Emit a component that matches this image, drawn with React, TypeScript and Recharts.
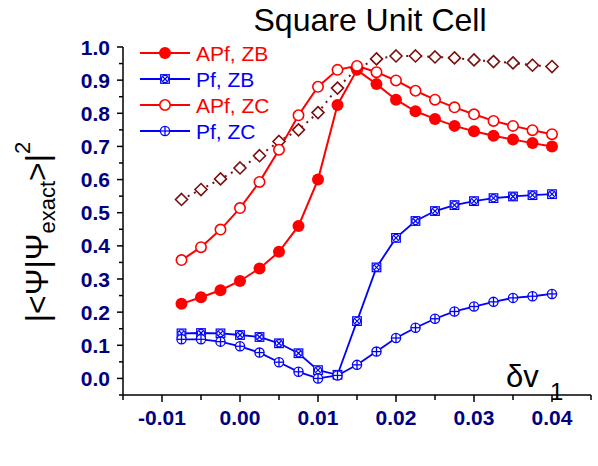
import React from "react";
import { LineChart, Line, XAxis, YAxis, Legend, Label } from "recharts";

// δv1 values (x) and overlaps
const dv = [
  -0.0075, -0.005, -0.0025, 0, 0.0025, 0.005, 0.0075, 0.01, 0.0125, 0.015,
  0.0175, 0.02, 0.0225, 0.025, 0.0275, 0.03, 0.0325, 0.035, 0.0375, 0.04,
];
const apfZB = [
  0.225, 0.245, 0.266, 0.294, 0.332, 0.382, 0.46, 0.6, 0.825, 0.931, 0.888,
  0.841, 0.806, 0.783, 0.762, 0.746, 0.732, 0.721, 0.71, 0.7,
];
const pfZB = [
  0.136, 0.137, 0.136, 0.131, 0.125, 0.106, 0.076, 0.025, 0.011, 0.173, 0.335,
  0.424, 0.475, 0.505, 0.523, 0.535, 0.544, 0.549, 0.553, 0.556,
];
const apfZC = [
  0.357, 0.396, 0.449, 0.514, 0.593, 0.69, 0.794, 0.88, 0.931, 0.943, 0.924,
  0.899, 0.868, 0.841, 0.818, 0.797, 0.777, 0.762, 0.749, 0.737,
];
const pfZC = [
  0.118, 0.118, 0.111, 0.097, 0.078, 0.049, 0.02, 0.0, 0.009, 0.041, 0.081,
  0.122, 0.153, 0.18, 0.202, 0.217, 0.231, 0.243, 0.248, 0.255,
];
const diamondVals = [
  0.54, 0.57, 0.602, 0.635, 0.672, 0.715, 0.75, 0.802, 0.876, 0.935, 0.964,
  0.973, 0.973, 0.97, 0.967, 0.961, 0.956, 0.952, 0.945, 0.941,
];

const xMajorTicks = [-0.01, 0, 0.01, 0.02, 0.03, 0.04];
const xMinorTicks = [-0.015, -0.005, 0.005, 0.015, 0.025, 0.035, 0.045];
const yMajorTicks = [0, 0.1, 0.2, 0.3, 0.4, 0.5, 0.6, 0.7, 0.8, 0.9, 1.0];
const yMinorTicks = [-0.05, 0.05, 0.15, 0.25, 0.35, 0.45, 0.55, 0.65, 0.75, 0.85, 0.95];

const legendItems = [
  { label: "APf, ZB", key: "apfZB", color: "#ff0000" },
  { label: "Pf, ZB", key: "pfZB", color: "#0000ff" },
  { label: "APf, ZC", key: "apfZC", color: "#ff0000" },
  { label: "Pf, ZC", key: "pfZC", color: "#0000ff" },
];

const data = dv.map((x, i) => ({
  x,
  apfZB: apfZB[i],
  pfZB: pfZB[i],
  apfZC: apfZC[i],
  pfZC: pfZC[i],
  diamond: diamondVals[i],
}));

const FONT = "'Liberation Sans', Arial, sans-serif";
const RED = "#ff0000";
const BLUE = "#0000ff";
const MAROON = "#7a0f0f";
const NAVY = "#000080";

function marker(kind: string, cx: number, cy: number, key?: string) {
  switch (kind) {
    case "apfZB":
      return <circle key={key} cx={cx} cy={cy} r={6} fill={RED} />;
    case "apfZC":
      return (
        <circle key={key} cx={cx} cy={cy} r={5.2} fill="#fff" stroke={RED} strokeWidth={1.6} />
      );
    case "pfZB":
      return (
        <g key={key} stroke={BLUE} strokeWidth={1.2} fill="#fff">
          <rect x={cx - 4.3} y={cy - 4.3} width={8.6} height={8.6} />
          <circle cx={cx} cy={cy} r={3.6} />
          <line x1={cx - 2.5} y1={cy - 2.5} x2={cx + 2.5} y2={cy + 2.5} />
          <line x1={cx - 2.5} y1={cy + 2.5} x2={cx + 2.5} y2={cy - 2.5} />
        </g>
      );
    case "pfZC":
      return (
        <g key={key} stroke={BLUE} strokeWidth={1.3} fill="#fff">
          <circle cx={cx} cy={cy} r={4.6} />
          <line x1={cx - 4.6} y1={cy} x2={cx + 4.6} y2={cy} />
          <line x1={cx} y1={cy - 4.6} x2={cx} y2={cy + 4.6} />
        </g>
      );
    default:
      return (
        <path
          key={key}
          d={`M${cx},${cy - 6}L${cx + 6},${cy}L${cx},${cy + 6}L${cx - 6},${cy}Z`}
          fill="#fff"
          stroke={MAROON}
          strokeWidth={1.6}
        />
      );
  }
}

const dotFor = (kind: string) => (p: any) =>
  marker(kind, p.cx, p.cy, `${kind}-${p.index}`);

function XTick(props: any) {
  const { x, y, payload } = props;
  const major = xMajorTicks.includes(payload.value);
  return (
    <g>
      <line x1={x} y1={y} x2={x} y2={y + (major ? 7 : 5)} stroke="#000" strokeWidth={1.5} />
      {major && (
        <text x={x} y={y + 30} textAnchor="middle" fill={NAVY} fontSize={21} fontWeight="bold" fontFamily={FONT}>
          {payload.value.toFixed(2)}
        </text>
      )}
    </g>
  );
}

function YTick(props: any) {
  const { x, y, payload } = props;
  const major = yMajorTicks.some((t) => Math.abs(t - payload.value) < 1e-9);
  return (
    <g>
      <line x1={x} y1={y} x2={x - (major ? 6 : 4)} y2={y} stroke="#000" strokeWidth={1.5} />
      {major && (
        <text x={x - 13} y={y + 7.5} textAnchor="end" fill={NAVY} fontSize={21} fontWeight="bold" fontFamily={FONT}>
          {payload.value.toFixed(1)}
        </text>
      )}
    </g>
  );
}

function YLabel() {
  const cx = 48;
  const cy = 232;
  return (
    <text
      x={cx}
      y={cy}
      transform={`rotate(-90, ${cx}, ${cy})`}
      textAnchor="middle"
      fontFamily={FONT}
      fontSize={32}
      fill="#000"
    >
      <tspan>|&lt;Ψ|Ψ</tspan>
      <tspan fontSize={22} dy={7}>exact</tspan>
      <tspan dy={-7}>&gt;|</tspan>
      <tspan fontSize={22} dy={-18}>2</tspan>
    </text>
  );
}

function LegendBox() {
  return (
    <svg width={230} height={110}>
      {legendItems.map((it, i) => {
        const y = 15 + i * 26;
        return (
          <g key={it.key}>
            <line x1={10} y1={y} x2={60} y2={y} stroke={it.color} strokeWidth={2} />
            {marker(it.key, 35, y)}
            <text x={66} y={y + 7.5} fill={it.color} fontSize={21} fontFamily={FONT}>
              {it.label}
            </text>
          </g>
        );
      })}
    </svg>
  );
}

export default function App() {
  const xTicks = [...xMajorTicks, ...xMinorTicks].sort((a, b) => a - b);
  const yTicks = [...yMajorTicks, ...yMinorTicks].sort((a, b) => a - b);
  return (
    <div style={{ position: "absolute", left: 0, top: 0, width: 598, height: 466, background: "#fff" }}>
      <LineChart
        width={598}
        height={466}
        data={data}
        margin={{ top: 47, right: 7, bottom: 41, left: 0 }}
      >
        <XAxis
          type="number"
          dataKey="x"
          domain={[-0.015, 0.045]}
          ticks={xTicks}
          interval={0}
          tickSize={0}
          tickMargin={0}
          tickLine={false}
          tick={<XTick />}
          axisLine={{ stroke: "#000", strokeWidth: 1.5 }}
          allowDataOverflow
        />
        <YAxis
          type="number"
          width={123}
          domain={[-0.05, 1.0]}
          ticks={yTicks}
          interval={0}
          tickSize={0}
          tickMargin={0}
          tickLine={false}
          tick={<YTick />}
          axisLine={{ stroke: "#000", strokeWidth: 1.5 }}
          allowDataOverflow
        >
          <Label content={<YLabel />} />
        </YAxis>
        <Legend
          layout="vertical"
          align="center"
          verticalAlign="middle"
          wrapperStyle={{ left: 130, top: 38, width: 230, height: 110 }}
          content={() => <LegendBox />}
        />
        <Line
          dataKey="diamond"
          stroke={MAROON}
          strokeWidth={2}
          strokeDasharray="2 5"
          dot={dotFor("diamond")}
          activeDot={false}
          legendType="none"
          isAnimationActive={false}
        />
        <Line
          dataKey="pfZB"
          stroke={BLUE}
          strokeWidth={1.8}
          dot={dotFor("pfZB")}
          activeDot={false}
          isAnimationActive={false}
        />
        <Line
          dataKey="pfZC"
          stroke={BLUE}
          strokeWidth={1.8}
          dot={dotFor("pfZC")}
          activeDot={false}
          isAnimationActive={false}
        />
        <Line
          dataKey="apfZB"
          stroke={RED}
          strokeWidth={2}
          dot={dotFor("apfZB")}
          activeDot={false}
          isAnimationActive={false}
        />
        <Line
          dataKey="apfZC"
          stroke={RED}
          strokeWidth={2}
          dot={dotFor("apfZC")}
          activeDot={false}
          isAnimationActive={false}
        />
      </LineChart>
      <svg
        width={598}
        height={466}
        style={{ position: "absolute", left: 0, top: 0, pointerEvents: "none" }}
      >
        <text x={370} y={31} textAnchor="middle" fontSize={32} fontFamily={FONT} fill="#000">
          Square Unit Cell
        </text>
        <text x={506} y={387} fontSize={31} fontFamily={FONT} fill="#000">
          δv
        </text>
        <text x={550} y={400} fontSize={24} fontFamily={FONT} fill="#000">
          1
        </text>
      </svg>
    </div>
  );
}
